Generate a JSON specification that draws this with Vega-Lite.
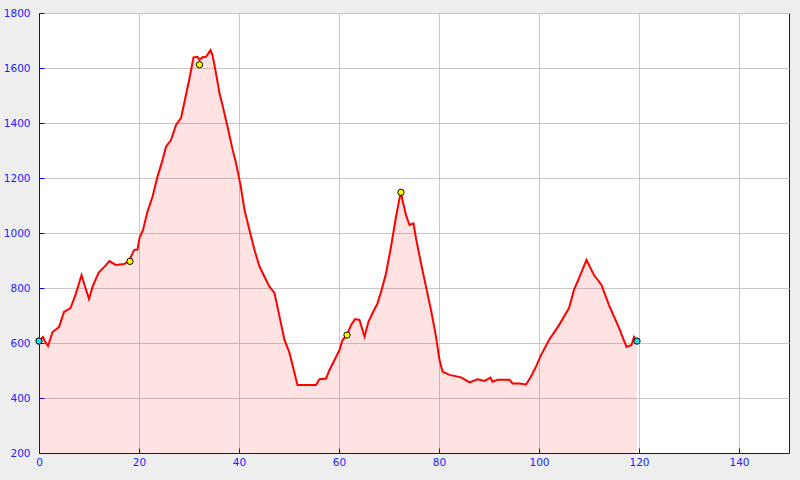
{
  "$schema": "https://vega.github.io/schema/vega-lite/v6.json",
  "width": 750,
  "height": 440,
  "autosize": {"type": "none"},
  "padding": {"left": 39, "top": 13, "right": 11, "bottom": 27},
  "background": "#eeeeee",
  "config": {
    "view": {"fill": "#ffffff", "stroke": "#0000ff", "strokeWidth": 1},
    "axis": {
      "title": null,
      "grid": true,
      "gridColor": "#c8c8c8",
      "gridWidth": 1,
      "domainColor": "#0000ff",
      "domainWidth": 1,
      "tickColor": "#0000ff",
      "tickWidth": 1,
      "tickSize": -5,
      "labelColor": "#2222ff",
      "labelFont": "DejaVu Sans",
      "labelFontSize": 10.5,
      "labelFlush": false,
      "labelOverlap": false,
      "format": "d"
    }
  },
  "datasets": {
    "profile": [
      {"km": 0, "elev": 607}, {"km": 0.8, "elev": 622}, {"km": 1.2, "elev": 605}, {"km": 1.8, "elev": 589},
      {"km": 2.7, "elev": 640}, {"km": 4, "elev": 658}, {"km": 5, "elev": 713}, {"km": 6.3, "elev": 727},
      {"km": 7.3, "elev": 775}, {"km": 8.5, "elev": 847}, {"km": 9.3, "elev": 800}, {"km": 10, "elev": 760},
      {"km": 10.7, "elev": 804}, {"km": 11.9, "elev": 855}, {"km": 13, "elev": 876}, {"km": 14.1, "elev": 898},
      {"km": 15.3, "elev": 884}, {"km": 17, "elev": 887}, {"km": 18, "elev": 898}, {"km": 19, "elev": 938},
      {"km": 19.7, "elev": 940}, {"km": 20.1, "elev": 982}, {"km": 20.8, "elev": 1011}, {"km": 21.7, "elev": 1078},
      {"km": 22.7, "elev": 1132}, {"km": 23.7, "elev": 1205}, {"km": 24.7, "elev": 1265}, {"km": 25.4, "elev": 1314},
      {"km": 26.4, "elev": 1338}, {"km": 27.4, "elev": 1393}, {"km": 28.4, "elev": 1418}, {"km": 29.1, "elev": 1477},
      {"km": 30.1, "elev": 1563}, {"km": 30.9, "elev": 1639}, {"km": 31.7, "elev": 1641}, {"km": 32.1, "elev": 1630},
      {"km": 32.7, "elev": 1639}, {"km": 33.4, "elev": 1641}, {"km": 34.3, "elev": 1665}, {"km": 34.7, "elev": 1647},
      {"km": 35.4, "elev": 1581}, {"km": 36.1, "elev": 1508}, {"km": 36.7, "elev": 1465}, {"km": 37.7, "elev": 1387},
      {"km": 38.7, "elev": 1305}, {"km": 39.4, "elev": 1255}, {"km": 40.3, "elev": 1175}, {"km": 41.1, "elev": 1084},
      {"km": 42.1, "elev": 1011}, {"km": 43.1, "elev": 938}, {"km": 44.1, "elev": 878}, {"km": 45.1, "elev": 841},
      {"km": 46.1, "elev": 805}, {"km": 47.1, "elev": 782}, {"km": 48.1, "elev": 696}, {"km": 49.1, "elev": 611},
      {"km": 50.1, "elev": 564}, {"km": 51.1, "elev": 491}, {"km": 51.7, "elev": 447}, {"km": 55.4, "elev": 447},
      {"km": 56.1, "elev": 468}, {"km": 57.4, "elev": 471}, {"km": 58.1, "elev": 502}, {"km": 59.1, "elev": 538},
      {"km": 60.1, "elev": 575}, {"km": 60.7, "elev": 611}, {"km": 61.6, "elev": 629}, {"km": 62.4, "elev": 665},
      {"km": 63.2, "elev": 687}, {"km": 64.1, "elev": 684}, {"km": 65.1, "elev": 623}, {"km": 65.9, "elev": 678},
      {"km": 66.7, "elev": 708}, {"km": 67.7, "elev": 744}, {"km": 68.4, "elev": 785}, {"km": 69.4, "elev": 853},
      {"km": 70.4, "elev": 950}, {"km": 71.4, "elev": 1059}, {"km": 72.1, "elev": 1126}, {"km": 72.4, "elev": 1148},
      {"km": 72.7, "elev": 1120}, {"km": 73.4, "elev": 1065}, {"km": 74.1, "elev": 1029}, {"km": 74.9, "elev": 1035},
      {"km": 75.4, "elev": 981}, {"km": 76.4, "elev": 890}, {"km": 77.4, "elev": 805}, {"km": 78.4, "elev": 720},
      {"km": 79.4, "elev": 623}, {"km": 80.1, "elev": 538}, {"km": 80.7, "elev": 496}, {"km": 82.1, "elev": 484},
      {"km": 84.4, "elev": 475}, {"km": 85.1, "elev": 468}, {"km": 86.1, "elev": 457}, {"km": 87.7, "elev": 468},
      {"km": 89.1, "elev": 462}, {"km": 90.3, "elev": 474}, {"km": 90.7, "elev": 459}, {"km": 91.7, "elev": 466},
      {"km": 94.1, "elev": 466}, {"km": 94.7, "elev": 453}, {"km": 96.1, "elev": 453}, {"km": 97.4, "elev": 449},
      {"km": 98.4, "elev": 478}, {"km": 99.4, "elev": 514}, {"km": 100.4, "elev": 556}, {"km": 102, "elev": 611},
      {"km": 104, "elev": 665}, {"km": 106, "elev": 727}, {"km": 107, "elev": 793}, {"km": 108, "elev": 836},
      {"km": 109.5, "elev": 902}, {"km": 111, "elev": 847}, {"km": 112.5, "elev": 811}, {"km": 114, "elev": 738},
      {"km": 116, "elev": 655}, {"km": 117.5, "elev": 586}, {"km": 118.5, "elev": 593}, {"km": 119, "elev": 622},
      {"km": 119.6, "elev": 607}
    ],
    "pts": [
      {"km": 0, "elev": 607, "kind": "end"},
      {"km": 119.6, "elev": 607, "kind": "end"},
      {"km": 18.2, "elev": 897, "kind": "peak"},
      {"km": 32.1, "elev": 1612, "kind": "peak"},
      {"km": 61.6, "elev": 629, "kind": "peak"},
      {"km": 72.4, "elev": 1148, "kind": "peak"}
    ]
  },
  "layer": [
    {
      "data": {"name": "profile"},
      "mark": {"type": "area", "color": "#ff0000", "fillOpacity": 0.11},
      "encoding": {
        "x": {"field": "km", "type": "quantitative", "scale": {"domain": [0, 150], "nice": false},
              "axis": {"values": [0, 20, 40, 60, 80, 100, 120, 140], "labelPadding": 9}},
        "y": {"field": "elev", "type": "quantitative", "scale": {"domain": [200, 1800], "nice": false, "zero": false},
              "axis": {"values": [200, 400, 600, 800, 1000, 1200, 1400, 1600, 1800], "labelPadding": 14}},
        "y2": {"datum": 200}
      }
    },
    {
      "data": {"name": "profile"},
      "mark": {"type": "line", "color": "#ff0000", "strokeWidth": 2},
      "encoding": {
        "x": {"field": "km", "type": "quantitative"},
        "y": {"field": "elev", "type": "quantitative"}
      }
    },
    {
      "data": {"name": "pts"},
      "mark": {"type": "point", "shape": "circle", "filled": true, "size": 40, "opacity": 1, "stroke": "#000000", "strokeWidth": 1},
      "encoding": {
        "x": {"field": "km", "type": "quantitative"},
        "y": {"field": "elev", "type": "quantitative"},
        "color": {"field": "kind", "type": "nominal", "scale": {"domain": ["end", "peak"], "range": ["#22ddee", "#ffff00"]}, "legend": null}
      }
    }
  ]
}
